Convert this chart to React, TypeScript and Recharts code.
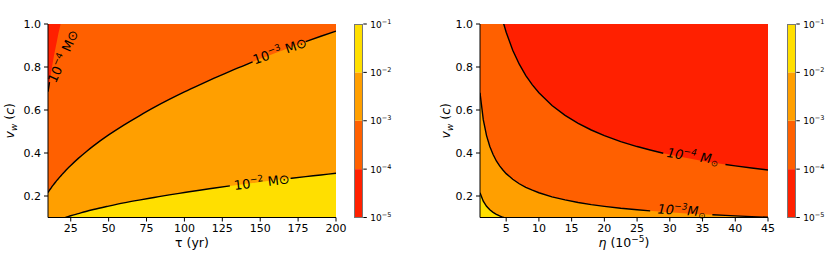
import React from "react";
import {
  Area,
  Bar,
  BarChart,
  CartesianGrid,
  ComposedChart,
  Line,
  ReferenceDot,
  XAxis,
  YAxis,
} from "recharts";

const FONT = "'DejaVu Sans', sans-serif";

// band colours between contour levels 1e-5|1e-4|1e-3|1e-2|1e-1 (autumn cmap)
const bandColors = ["#ff2000", "#ff6000", "#ff9f00", "#ffdf00"];
const levelExponents = [-5, -4, -3, -2, -1];

const vTicks = [0.2, 0.4, 0.6, 0.8, 1.0];
const V_MIN = 0.1;
const V_MAX = 1.0;

// left panel: eta = 1e-5, x = tau (yr); values are v_w on each contour
const tauValues = [
  10, 11, 12, 13, 14, 15, 16, 17, 18, 19, 20, 21, 22, 25, 30, 35, 40, 50, 60, 70,
  80, 90, 100, 110, 120, 130, 140, 145, 150, 160, 170, 180, 190, 200,
];
const tauTicks = [25, 50, 75, 100, 125, 150, 175, 200];
const leftLevel4 = [
  0.685, 0.73, 0.775, 0.815, 0.855, 0.89, 0.925, 0.96, 0.99, 1.02, null, null,
  null, null, null, null, null, null, null, null, null, null, null, null, null,
  null, null, null, null, null, null, null, null, null,
];
const leftLevel3 = [
  0.216, 0.227, 0.237, 0.247, 0.256, 0.265, 0.274, 0.282, 0.29, 0.298, 0.306,
  0.313, 0.321, 0.342, 0.375, 0.405, 0.433, 0.484, 0.53, 0.572, 0.612, 0.649,
  0.684, 0.717, 0.749, 0.78, 0.809, 0.824, 0.838, 0.865, 0.892, 0.918, 0.943,
  0.967,
];
const leftLevel2 = [
  null, null, null, null, null, null, null, null, null, null, 0.097, 0.099,
  0.101, 0.108, 0.118, 0.128, 0.137, 0.153, 0.168, 0.181, 0.193, 0.205, 0.216,
  0.227, 0.237, 0.247, 0.256, 0.26, 0.265, 0.274, 0.282, 0.29, 0.298, 0.306,
];

// right panel: tau = 100 yr, x = eta (1e-5)
const etaValues = [
  1, 1.5, 2, 2.5, 3, 3.5, 4, 4.5, 5, 6, 7, 8, 9, 10, 12, 14, 16, 18, 20, 22.5, 25,
  27, 29, 31, 33, 35, 36.5, 38.5, 40, 42.5, 45,
];
const etaTicks = [5, 10, 15, 20, 25, 30, 35, 40, 45];
const rightLevel4 = [
  null, null, null, null, null, null, null, 1.013, 0.962, 0.878, 0.813, 0.76,
  0.717, 0.68, 0.621, 0.575, 0.538, 0.507, 0.481, 0.453, 0.43, 0.414, 0.399,
  0.386, 0.374, 0.363, 0.356, 0.3465, 0.34, 0.33, 0.321,
];
const rightLevel3 = [
  0.68, 0.555, 0.481, 0.43, 0.393, 0.363, 0.34, 0.321, 0.304, 0.278, 0.257, 0.24,
  0.227, 0.215, 0.196, 0.182, 0.17, 0.16, 0.152, 0.143, 0.136, 0.131, 0.126,
  0.122, 0.118, 0.115, 0.113, 0.11, 0.1075, 0.104, 0.101,
];
const rightLevel2 = [
  0.215, 0.176, 0.152, 0.136, 0.124, 0.115, 0.1075, 0.101, 0.096, null, null,
  null, null, null, null, null, null, null, null, null, null, null, null, null,
  null, null, null, null, null, null, null,
];

// x-ranges where the contour line is broken for its inline label
const leftGaps = { l4: [11.5, 1000], l3: [146, 179], l2: [131, 169] };
const rightGaps = { l4: [29.5, 38], l3: [27.5, 36], l2: [1000, 1000] };

interface ContourLabel {
  level: number;
  x: number;
  v: number;
  angle: number;
  italic: boolean;
  space: boolean;
}

const leftLabels: ContourLabel[] = [
  { level: 4, x: 20, v: 0.85, angle: -66, italic: false, space: true },
  { level: 3, x: 163, v: 0.874, angle: -19, italic: false, space: true },
  { level: 2, x: 151, v: 0.264, angle: -7, italic: false, space: true },
];
const rightLabels: ContourLabel[] = [
  { level: 4, x: 33.5, v: 0.385, angle: 8, italic: true, space: true },
  { level: 3, x: 31.8, v: 0.133, angle: 3, italic: true, space: false },
];

type Gaps = { l4: number[]; l3: number[]; l2: number[] };

function inGap(x: number, g: number[]) {
  return x > g[0] && x < g[1];
}

function buildRows(
  xs: number[],
  l4: (number | null)[],
  l3: (number | null)[],
  l2: (number | null)[],
  gaps: Gaps
) {
  return xs.map((x, i) => ({
    x,
    fill4: l4[i] ?? V_MAX,
    fill3: l3[i] ?? V_MAX,
    fill2: l2[i] ?? V_MIN,
    line4: inGap(x, gaps.l4) ? null : l4[i],
    line3: inGap(x, gaps.l3) ? null : l3[i],
    line2: inGap(x, gaps.l2) ? null : l2[i],
  }));
}

const leftRows = buildRows(tauValues, leftLevel4, leftLevel3, leftLevel2, leftGaps);
const rightRows = buildRows(etaValues, rightLevel4, rightLevel3, rightLevel2, rightGaps);

const minus = (n: number) => "\u2212" + Math.abs(n);

function ContourText({ cx, cy, label }: { cx: number; cy: number; label: ContourLabel }) {
  return (
    <text
      x={cx}
      y={cy + 4.5}
      textAnchor="middle"
      transform={`rotate(${label.angle} ${cx} ${cy})`}
      fontFamily={FONT}
      fontSize={13}
      fontStyle={label.italic ? "italic" : "normal"}
      fill="#000"
    >
      10<tspan dy={-5.5} fontSize={9}>{minus(label.level)}</tspan>
      {label.italic ? (
        <>
          <tspan dy={5.5}>{label.space ? " M" : "M"}</tspan>
          <tspan dy={2.5} fontSize={8.5}>⊙</tspan>
        </>
      ) : (
        <tspan dy={5.5}>{" M⊙"}</tspan>
      )}
    </text>
  );
}

interface PanelProps {
  width: number;
  marginLeft: number;
  marginRight: number;
  rows: ReturnType<typeof buildRows>;
  domain: [number, number];
  ticks: number[];
  curve: "monotone" | "linear";
  title: React.ReactNode;
  xLabel: React.ReactNode;
  yLabelGap: number;
  labels: ContourLabel[];
}

function Panel(props: PanelProps) {
  const { width, marginLeft, marginRight, rows, domain, ticks, curve, title, xLabel, yLabelGap, labels } = props;
  const axisTick = { fontSize: 11, fill: "#000", fontFamily: FONT };

  return (
    <ComposedChart
      width={width}
      height={261}
      data={rows}
      margin={{ top: 24, right: marginRight, bottom: 13.5, left: marginLeft }}
    >
      <CartesianGrid horizontal={false} vertical={false} fill={bandColors[0]} fillOpacity={1} />
      <XAxis
        dataKey="x"
        type="number"
        domain={domain}
        ticks={ticks}
        interval={0}
        allowDataOverflow
        height={30}
        tickSize={4}
        tickMargin={3}
        tick={axisTick}
        tickLine={{ stroke: "#000" }}
        axisLine={{ stroke: "#000" }}
        label={{
          content: (p: any) => (
            <text
              x={p.viewBox.x + p.viewBox.width / 2}
              y={p.viewBox.y + 29.5}
              textAnchor="middle"
              fontFamily={FONT}
              fontSize={12.5}
              fill="#000"
            >
              {xLabel}
            </text>
          ),
        }}
      />
      <XAxis
        xAxisId="top"
        dataKey="x"
        orientation="top"
        type="number"
        domain={domain}
        allowDataOverflow
        height={0}
        tick={false}
        tickLine={false}
        axisLine={{ stroke: "#000" }}
        label={{
          content: (p: any) => (
            <text
              x={p.viewBox.x + p.viewBox.width / 2}
              y={p.viewBox.y + p.viewBox.height - 7}
              textAnchor="middle"
              fontFamily={FONT}
              fontSize={12.5}
              fill="#000"
            >
              {title}
            </text>
          ),
        }}
      />
      <YAxis
        type="number"
        domain={[V_MIN, V_MAX]}
        ticks={vTicks}
        interval={0}
        allowDataOverflow
        width={40}
        tickSize={4}
        tickMargin={3}
        tick={axisTick}
        tickLine={{ stroke: "#000" }}
        axisLine={{ stroke: "#000" }}
        tickFormatter={(v: number) => v.toFixed(1)}
        label={{
          content: (p: any) => {
            const bx = p.viewBox.x + p.viewBox.width - yLabelGap;
            const cy = p.viewBox.y + p.viewBox.height / 2;
            return (
              <text
                x={bx}
                y={cy}
                textAnchor="middle"
                transform={`rotate(-90 ${bx} ${cy})`}
                fontFamily={FONT}
                fontSize={12.5}
                fill="#000"
              >
                <tspan fontStyle="italic">v</tspan>
                <tspan fontStyle="italic" fontSize={9} dy={3}>w</tspan>
                <tspan dy={-3}>{" ("}</tspan>
                <tspan fontStyle="italic">c</tspan>
                <tspan>)</tspan>
              </text>
            );
          },
        }}
      />
      <YAxis
        yAxisId="right"
        orientation="right"
        type="number"
        domain={[V_MIN, V_MAX]}
        allowDataOverflow
        width={0}
        tick={false}
        tickLine={false}
        axisLine={{ stroke: "#000" }}
      />
      <Area type={curve} dataKey="fill4" baseValue={V_MIN} fill={bandColors[1]} fillOpacity={1} stroke="none" isAnimationActive={false} activeDot={false} />
      <Area type={curve} dataKey="fill3" baseValue={V_MIN} fill={bandColors[2]} fillOpacity={1} stroke="none" isAnimationActive={false} activeDot={false} />
      <Area type={curve} dataKey="fill2" baseValue={V_MIN} fill={bandColors[3]} fillOpacity={1} stroke="none" isAnimationActive={false} activeDot={false} />
      <Line type={curve} dataKey="line4" stroke="#000" strokeWidth={1.4} dot={false} activeDot={false} isAnimationActive={false} />
      <Line type={curve} dataKey="line3" stroke="#000" strokeWidth={1.4} dot={false} activeDot={false} isAnimationActive={false} />
      <Line type={curve} dataKey="line2" stroke="#000" strokeWidth={1.4} dot={false} activeDot={false} isAnimationActive={false} />
      {labels.map((l) => (
        <ReferenceDot
          key={l.level}
          x={l.x}
          y={l.v}
          r={1}
          shape={(p: any) => <ContourText cx={p.cx} cy={p.cy} label={l} />}
        />
      ))}
    </ComposedChart>
  );
}

const colorbarRow = [
  Object.fromEntries([["name", "cb"], ...bandColors.map((_, i) => [`s${i}`, 1])]),
];

function ColorbarTick(p: any) {
  const exp = levelExponents[p.payload.value];
  return (
    <text x={p.x} y={p.y + 3.5} fontFamily={FONT} fontSize={9} fill="#000">
      10<tspan dy={-4} fontSize={6.5}>{minus(exp)}</tspan>
    </text>
  );
}

function Colorbar() {
  return (
    <div style={{ position: "relative" }}>
      <BarChart
        width={50}
        height={261}
        data={colorbarRow}
        margin={{ top: 24, right: 0, bottom: 43.5, left: 10 }}
        barCategoryGap={0}
        barGap={0}
      >
        <XAxis dataKey="name" hide />
        <YAxis
          orientation="right"
          type="number"
          domain={[0, levelExponents.length - 1]}
          ticks={levelExponents.map((_, i) => i)}
          interval={0}
          width={30.7}
          tickSize={3.5}
          tickMargin={3.5}
          tickLine={{ stroke: "#000" }}
          axisLine={false}
          tick={<ColorbarTick />}
        />
        {bandColors.map((c, i) => (
          <Bar key={c} dataKey={`s${i}`} stackId="cb" fill={c} isAnimationActive={false} />
        ))}
      </BarChart>
      <div
        style={{
          position: "absolute",
          left: 10,
          top: 24,
          width: 9.3,
          height: 193.5,
          border: "1px solid #777",
          boxSizing: "border-box",
          pointerEvents: "none",
        }}
      />
    </div>
  );
}

const sup = (s: string) => (
  <tspan dy={-5} fontSize={9}>
    {s}
  </tspan>
);

export default function App() {
  return (
    <div style={{ position: "absolute", left: 0, top: 0, width: 830, height: 261, background: "#fff" }}>
      <div style={{ position: "absolute", left: 0, top: 0 }}>
        <Panel
          width={352}
          marginLeft={8}
          marginRight={16}
          rows={leftRows}
          domain={[10, 200]}
          ticks={tauTicks}
          curve="monotone"
          title={
            <>
              <tspan fontStyle="italic">η</tspan>
              <tspan>{" = 10"}</tspan>
              {sup(minus(5))}
            </>
          }
          xLabel="τ (yr)"
          yLabelGap={34.3}
          labels={leftLabels}
        />
      </div>
      <div style={{ position: "absolute", left: 344, top: 0 }}>
        <Colorbar />
      </div>
      <div style={{ position: "absolute", left: 420, top: 0 }}>
        <Panel
          width={364}
          marginLeft={20}
          marginRight={16}
          rows={rightRows}
          domain={[1, 45]}
          ticks={etaTicks}
          curve="linear"
          title="τ = 100 yr"
          xLabel={
            <>
              <tspan fontStyle="italic">η</tspan>
              <tspan>{" (10"}</tspan>
              {sup(minus(5))}
              <tspan dy={5}>)</tspan>
            </>
          }
          yLabelGap={29.7}
          labels={rightLabels}
        />
      </div>
      <div style={{ position: "absolute", left: 776.7, top: 0 }}>
        <Colorbar />
      </div>
    </div>
  );
}
